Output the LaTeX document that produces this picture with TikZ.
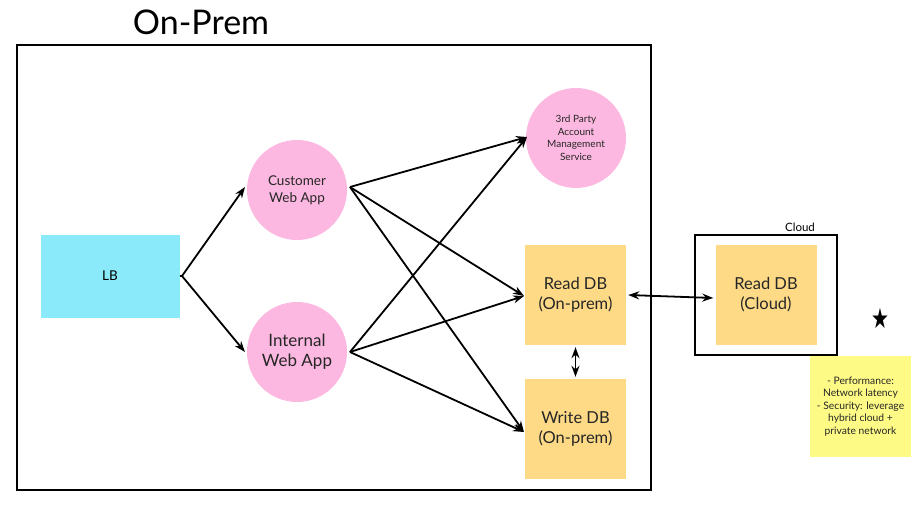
\documentclass[tikz,border=0pt]{standalone}
\usepackage{fontspec}
\setmainfont{Lato}
\newfontfamily\djv{DejaVu Sans}
\usetikzlibrary{arrows.meta}
\definecolor{lbcyan}{HTML}{8AEAF9}
\definecolor{pinkc}{HTML}{FCB8E0}
\definecolor{dbor}{HTML}{FEDA87}
\definecolor{sticky}{HTML}{FEFA86}
\begin{document}
\begin{tikzpicture}[x=1pt,y=-1pt,
  frame/.style={draw=black,line width=2pt},
  circ/.style={circle,fill=pinkc,minimum size=100pt,inner sep=0pt,align=center,text=black!85},
  dbbox/.style={rectangle,fill=dbor,minimum width=101pt,minimum height=100pt,inner sep=0pt,align=center,font=\fontsize{16.5}{20}\selectfont,text=black!85},
  conn/.style={line width=1.8pt,-{Stealth[length=11pt,width=8pt]}},
  bconn/.style={line width=1.8pt,{Stealth[length=11pt,width=8pt]}-{Stealth[length=11pt,width=8pt]}}]
\useasboundingbox (0,0) rectangle (922,506);
\node[font=\fontsize{34}{38}\selectfont,anchor=center] (title) at (201,22) {On-Prem};
\node[frame,rectangle,minimum width=634pt,minimum height=445pt,inner sep=0pt] (onprem) at (334,267.5) {};
\node[rectangle,fill=lbcyan,minimum width=139pt,minimum height=83pt,inner sep=0pt,font=\fontsize{13.5}{16}\selectfont] (lb) at (110,276) {LB};
\node[circ,font=\fontsize{13.5}{17}\selectfont] (cust) at (297,190) {Customer\\Web App};
\node[circ,font=\fontsize{17}{20}\selectfont] (intl) at (297,352) {Internal\\Web App};
\node[circ,font=\fontsize{10}{12.5}\selectfont] (third) at (576,138) {3rd Party\\Account\\Management\\Service};
\node[dbbox] (rdb) at (575.5,295) {Read DB\\(On-prem)};
\node[dbbox] (wdb) at (575.5,429) {Write DB\\(On-prem)};
\node[frame,rectangle,minimum width=142pt,minimum height=120pt,inner sep=0pt] (cloud) at (766,295) {};
\node[font=\fontsize{11.5}{13}\selectfont,anchor=south,inner sep=2pt] (cloudlbl) at (800,234) {Cloud};
\node[dbbox] (cdb) at (766,295) {Read DB\\(Cloud)};
\node[rectangle,fill=sticky,minimum width=101pt,minimum height=101pt,inner sep=0pt,align=center,font=\fontsize{10.3}{12.5}\selectfont,text=black!85] (note) at (860.5,406.5) {- Performance:\\Network latency\\- Security: leverage\\hybrid cloud +\\private network};
\node[font=\djv\fontsize{20}{20}\selectfont,inner sep=0pt,yscale=1.4] (star) at (880,318) {★};
\coordinate (lbout) at (182,276);
\coordinate (custin) at (245,187);
\coordinate (intlin) at (245,352);
\coordinate (custout) at (350,187);
\coordinate (intlout) at (350,352);
\coordinate (thirdin) at (527,137);
\coordinate (rdbin) at (524,296);
\coordinate (wdbin) at (524,432);
\draw[line width=1.8pt] (lb.east) -- (lbout);
\draw[conn] (lbout) -- (custin);
\draw[conn] (lbout) -- (intlin);
\draw[conn] (custout) -- (thirdin);
\draw[conn] (custout) -- (rdbin);
\draw[conn] (custout) -- (wdbin);
\draw[conn] (intlout) -- (thirdin);
\draw[conn] (intlout) -- (rdbin);
\draw[conn] (intlout) -- (wdbin);
\draw[bconn] ([yshift=-2pt]rdb.south) -- ([yshift=2pt]wdb.north);
\draw[bconn] ([xshift=2pt]rdb.east) -- ([xshift=-2pt,yshift=-3pt]cdb.west);
\end{tikzpicture}
\end{document}
